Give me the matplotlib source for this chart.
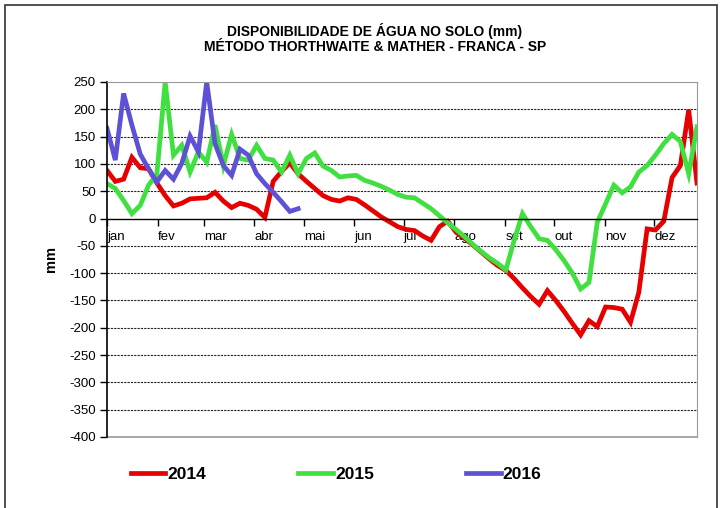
#! /usr/bin/env python3

import numpy as np
import matplotlib
matplotlib.use('Agg')
import matplotlib.pyplot as plt
from matplotlib.patches import Rectangle

# soil water availability (mm), one value per pentad
agua_2014 = [88, 68, 72, 112, 93, 91, 65, 42, 23, 28, 36, 37, 38, 48, 32, 20, 28, 24,
             17, 2, 68, 86, 102, 82, 68, 55, 42, 35, 32, 38, 35, 25, 14, 3, -6, -15,
             -20, -22, -32, -40, -15, -5, -25, -36, -48, -61, -74, -86, -95, -110, -127, -143,
             -157, -132, -150, -170, -192, -213, -187, -198, -162, -163, -166, -190, -135, -19, -21, -5,
             75, 97, 199, 65]
agua_2015 = [64, 55, 33, 9, 24, 61, 81, 250, 116, 134, 85, 122, 103, 171, 97, 154, 110, 107,
             134, 110, 107, 85, 116, 82, 110, 120, 96, 88, 76, 78, 79, 70, 65, 59, 52, 44,
             39, 38, 28, 18, 5, -8, -20, -33, -47, -60, -72, -82, -94, -40, 9, -15,
             -37, -40, -57, -77, -100, -129, -117, -7, 27, 61, 47, 58, 85, 97, 116, 137,
             154, 141, 82, 168]
agua_2016 = [165, 107, 229, 171, 118, 91, 67, 88, 72, 101, 151, 122, 250, 137, 97, 79, 127, 116,
             82, 64, 48, 31, 13, 18]

meses = ['jan', 'fev', 'mar', 'abr', 'mai', 'jun', 'jul', 'ago', 'set', 'out', 'nov', 'dez']
inicio_mes = [0, 31, 59, 90, 120, 151, 181, 212, 243, 273, 304, 334]

plt.rcParams['font.family'] = ['Liberation Sans', 'DejaVu Sans']
plt.rcParams['axes.unicode_minus'] = False

dias = np.linspace(0, 360, len(agua_2014))

fig = plt.figure(figsize=(7.21, 5.08), dpi=100)
ax = fig.add_axes([0.1484, 0.1398, 0.8183, 0.6988])

ax.plot(dias, agua_2014, color='#e60000', lw=3.4, label='2014', solid_joinstyle='miter')
ax.plot(dias, agua_2015, color='#40e040', lw=3.4, label='2015', solid_joinstyle='miter')
ax.plot(dias[:len(agua_2016)], agua_2016, color='#5d52d6', lw=3.4, label='2016',
        solid_joinstyle='miter')

ax.set_xlim(0, 360)
ax.set_ylim(-400, 250)
ax.set_yticks(np.arange(-400, 251, 50))
ax.tick_params(axis='y', labelsize=9.5, direction='out', length=5, width=1, pad=3)

# dotted grid
for v in range(-400, 250, 50):
    if v != 0:
        ax.axhline(v, color='#222222', lw=0.8, ls=(0, (2, 1)), zorder=0)

# x axis crossing at zero
ax.spines['bottom'].set_position(('data', 0))
ax.spines['bottom'].set_color('black')
ax.spines['bottom'].set_linewidth(1)
ax.set_xticks(inicio_mes)
ax.set_xticklabels(meses, ha='left', fontsize=9.5)
ax.tick_params(axis='x', direction='out', length=5, width=1, pad=4)
ax.spines['left'].set_linewidth(1.2)
for s in ['top', 'right']:
    ax.spines[s].set_color('#999999')
# bottom border of plot area
ax.axhline(-400, color='#999999', lw=1.2, clip_on=False)

ax.set_ylabel('mm', fontsize=10.5, fontweight='bold', labelpad=8)

fig.text(375 / 721, 1 - 31 / 508, 'DISPONIBILIDADE DE ÁGUA NO SOLO (mm)',
         ha='center', va='center', fontsize=10, fontweight='bold')
fig.text(375 / 721, 1 - 47 / 508, 'MÉTODO THORTHWAITE & MATHER - FRANCA - SP',
         ha='center', va='center', fontsize=10, fontweight='bold')

handles, labels = ax.get_legend_handles_labels()
fig.legend(handles, labels, loc='center', bbox_to_anchor=(336 / 721, 1 - 474 / 508), ncol=3,
           frameon=False, handlelength=2.0, handletextpad=0.12, columnspacing=5.3,
           prop={'size': 12.5, 'weight': 'bold'})

fig.patches.append(Rectangle((5 / 721, -0.05), 712 / 721, 1.05 - 5 / 508,
                             transform=fig.transFigure, fill=False, edgecolor='#333333', lw=1.2))

fig.savefig('out.png', dpi=100)
plt.close('all')
